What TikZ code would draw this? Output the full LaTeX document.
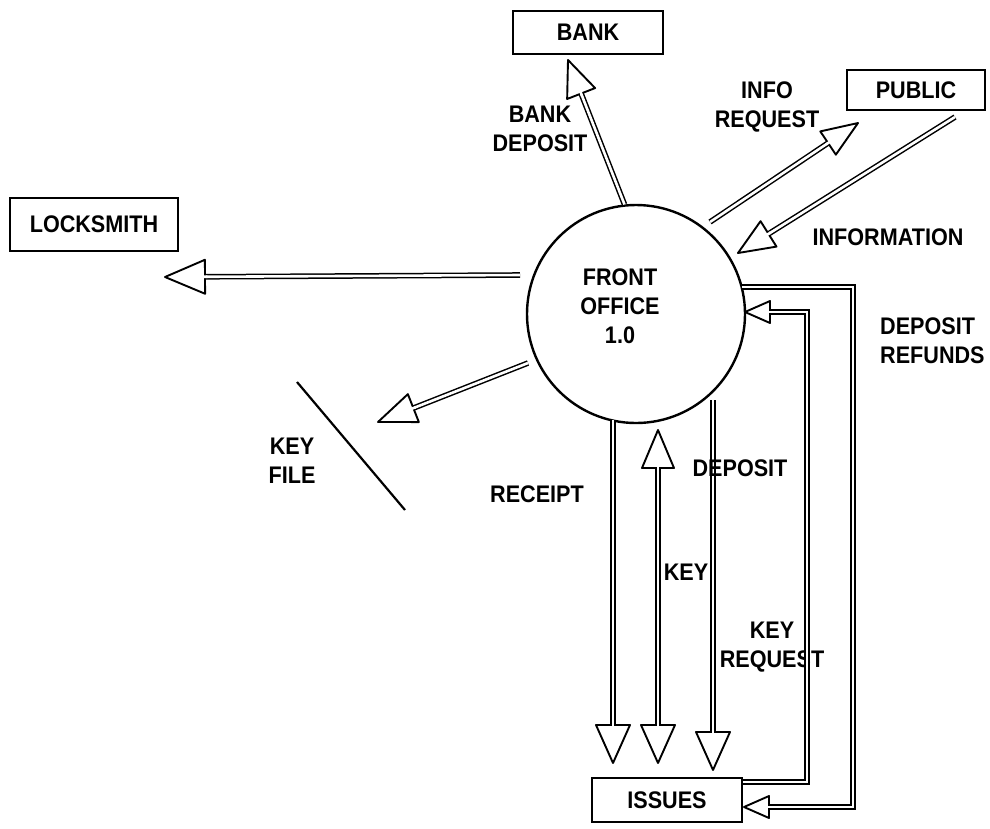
\documentclass[tikz,border=0pt]{standalone}
\usepackage{fontspec}
\setmainfont[FakeStretch=0.9]{Liberation Sans}
\usetikzlibrary{calc}
% #1 tip coordinate, #2 point the shaft comes from, #3 head length, #4 half width
\newcommand\FlowHead[4]{%
  \coordinate (hb) at ($(#1)!#3!(#2)$);
  \draw[headline] (#1) -- ($(hb)!#4!90:(#1)$) -- ($(hb)!#4!-90:(#1)$) -- cycle;
  \draw[white, line width=2.6pt] ($(hb)!-2.5pt!(#1)$) -- ($(hb)!2.5pt!(#1)$);
}
\begin{document}
\begin{tikzpicture}[x=1pt,y=-1pt,
  lbl/.style={font=\fontsize{24}{29}\selectfont\bfseries, inner sep=0pt, align=center},
  box/.style={draw, line width=2pt, inner sep=0pt, font=\fontsize{24}{29}\selectfont\bfseries},
  flow/.style={draw, line width=1.5pt, double distance=2.6pt, line join=miter, line cap=butt, shorten >=10pt},
  flowboth/.style={flow, shorten <=10pt},
  headline/.style={draw, line width=1.9pt, fill=white, line join=round}]
\useasboundingbox (0,0) rectangle (990,828);
% nodes
\node[draw, circle, line width=2.4pt, minimum size=218pt, inner sep=0pt] (fo) at (636,314) {};
\node[lbl] (fotext) at (620,306) {FRONT\\OFFICE\\1.0};
\node[box, minimum width=150pt, minimum height=43pt] (bank) at (588,32) {BANK};
\node[box, minimum width=138pt, minimum height=40pt] (public) at (916,90) {PUBLIC};
\node[box, minimum width=168pt, minimum height=53pt] (lock) at (94,224) {LOCKSMITH};
\node[box, minimum width=150pt, minimum height=44pt] (issues) at (667,800) {ISSUES};
% labels
\node[lbl] (lbank) at (540,129) {BANK\\DEPOSIT};
\node[lbl] (linfo) at (767,107) {INFO\\REQUEST};
\node[lbl] (linformation) at (888,237) {INFORMATION};
\node[lbl, anchor=west, align=left] (lrefund) at (880,341) {DEPOSIT\\REFUNDS};
\node[lbl] (lkeyfile) at (292,461) {KEY\\FILE};
\node[lbl] (lreceipt) at (537,494) {RECEIPT};
\node[lbl] (lkey) at (686,572) {KEY};
\node[lbl] (lkeyreq) at (772,647) {KEY\\REQUEST};
% coordinates
\coordinate (bankT) at (568,60);
\coordinate (irS) at (710,222);
\coordinate (irT) at (858,123);
\coordinate (inS) at (955,117);
\coordinate (inT) at (738,253);
\coordinate (lkS) at (520,275);
\coordinate (lkT) at (165,277);
\coordinate (kfS) at (528,363);
\coordinate (kfT) at (378,422);
\coordinate (kf1) at (297,382);
\coordinate (kf2) at (405,510);
\coordinate (rcS) at (613,420);
\coordinate (rcT) at (613,763);
\coordinate (kyS) at (658,430);
\coordinate (kyT) at (658,763);
\coordinate (dpS) at (713,400);
\coordinate (dpT) at (713,770);
\coordinate (krB) at (807,782);
\coordinate (krC) at (807,312);
\coordinate (krT) at (745,312);
\coordinate (drS) at (742,287);
\coordinate (drB) at (853,287);
\coordinate (drC) at (853,807);
\coordinate (drT) at (744,807);
% connectors
\draw[flow] (fo.96) -- (bankT);       \FlowHead{bankT}{fo.96}{36pt}{15pt}
\draw[flow] (irS) -- (irT);           \FlowHead{irT}{irS}{36pt}{14pt}
\draw[flow] (inS) -- (inT);           \FlowHead{inT}{inS}{36pt}{15pt}
\draw[flow] (lkS) -- (lkT);           \FlowHead{lkT}{lkS}{40pt}{17pt}
\draw[flow] (kfS) -- (kfT);           \FlowHead{kfT}{kfS}{38pt}{15pt}
\draw[line width=2.2pt] (kf1) -- (kf2);
\draw[flow] (rcS) -- (rcT);           \FlowHead{rcT}{rcS}{38pt}{17pt}
\draw[flowboth] (kyS) -- (kyT);       \FlowHead{kyT}{kyS}{38pt}{17pt} \FlowHead{kyS}{kyT}{38pt}{16pt}
\draw[flow] (dpS) -- (dpT);           \FlowHead{dpT}{dpS}{38pt}{17pt}
\draw[flow] (issues.east |- krB) -- (krB) -- (krC) -- (krT);  \FlowHead{krT}{krC}{25pt}{11pt}
\draw[flow] (drS) -- (drB) -- (drC) -- (drT);                 \FlowHead{drT}{drC}{25pt}{11pt}
\node[lbl] (ldeposit) at (740,468) {DEPOSIT};
\end{tikzpicture}
\end{document}
